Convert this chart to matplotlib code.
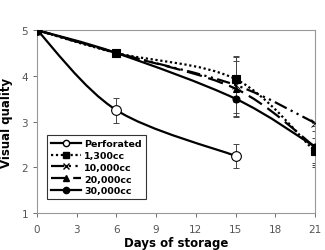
import matplotlib
matplotlib.use("Agg")
import matplotlib.pyplot as plt
import numpy as np
from matplotlib.path import Path
from matplotlib.patches import PathPatch

days = [0, 6, 15, 21]
perf_days = [0, 6, 15]
perforated = [5, 3.25, 2.25]
perf_err = [0, 0.27, 0.27]
cc1300 = [5, 4.5, 3.93, 2.35]
cc1300_err = [0, 0, 0.5, 0.3]
cc10000 = [5, 4.5, 3.8, 2.97]
cc10000_err = [0, 0, 0.62, 0]
cc20000 = [5, 4.5, 3.72, 2.45]
cc20000_err = [0, 0, 0.6, 0.35]
cc30000 = [5, 4.5, 3.5, 2.45]
cc30000_err = [0, 0, 0.4, 0.45]


def smooth(ax, x, y, ls, lw=1.6):
    # Excel-like smoothed line: bezier through the points
    x = np.asarray(x, float)
    y = np.asarray(y, float)
    verts = [(x[0], y[0])]
    codes = [Path.MOVETO]
    n = len(x)
    for i in range(n - 1):
        p0 = (x[max(i - 1, 0)], y[max(i - 1, 0)])
        p1 = (x[i], y[i])
        p2 = (x[i + 1], y[i + 1])
        p3 = (x[min(i + 2, n - 1)], y[min(i + 2, n - 1)])
        c1 = (p1[0] + (p2[0] - p0[0]) / 6, p1[1] + (p2[1] - p0[1]) / 6)
        c2 = (p2[0] - (p3[0] - p1[0]) / 6, p2[1] - (p3[1] - p1[1]) / 6)
        verts += [c1, c2, p2]
        codes += [Path.CURVE4] * 3
    ax.add_patch(PathPatch(Path(verts, codes), fill=False, lw=lw,
                           ls=ls, ec="black", capstyle="butt"))


fig = plt.figure(figsize=(3.25, 2.51), dpi=100)
ax = fig.add_axes([0.114, 0.147, 0.855, 0.729])

series = [
    ("Perforated", perf_days, perforated, perf_err, "-", "o", "white", 7),
    ("1,300cc", days, cc1300, cc1300_err, (0, (1, 1.2)), "s", "black", 6),
    ("10,000cc", days, cc10000, cc10000_err, (0, (6, 2, 1, 2, 1, 2)), "x", "black", 6),
    ("20,000cc", days, cc20000, cc20000_err, (0, (7, 3)), "^", "black", 5),
    ("30,000cc", days, cc30000, cc30000_err, "-", "o", "black", 5),
]

for name, x, y, e, ls, mk, fc, ms in series:
    smooth(ax, x, y, ls)
    ax.errorbar(x, y, yerr=e, fmt="none", ecolor="#444444", elinewidth=0.7,
                capsize=2, capthick=0.7)
    ax.plot(x, y, ls="none", marker=mk, mfc=fc, mec="black", ms=ms,
            mew=0.8 if mk != "x" else 0.6, zorder=5)
    ax.plot([], [], ls=ls, lw=1.6, color="black", marker=mk, mfc=fc,
            mec="black", ms=4.5, label=name)

ax.set_xlim(0, 21)
ax.set_ylim(1, 5)
ax.set_xticks(range(0, 22, 3))
ax.set_yticks(range(1, 6))
ax.tick_params(labelsize=7.5, colors="#555555", length=3, width=0.6)
ax.tick_params(axis="x", pad=5)
for s in ax.spines.values():
    s.set_color("#999999")
    s.set_linewidth(0.8)

ax.set_xlabel("Days of storage", fontsize=8.5, fontweight="bold", labelpad=1.5)
ax.set_ylabel("Visual quality", fontsize=8.5, fontweight="bold", labelpad=6)

leg = ax.legend(loc="lower left", bbox_to_anchor=(0.02, 0.05),
                prop={"weight": "bold", "size": 6.8}, frameon=True,
                fancybox=False, edgecolor="black", handlelength=3.2,
                labelspacing=0.3, borderpad=0.4, handletextpad=0.3)
leg.get_frame().set_linewidth(0.8)

fig.savefig("out.png", dpi=100)
